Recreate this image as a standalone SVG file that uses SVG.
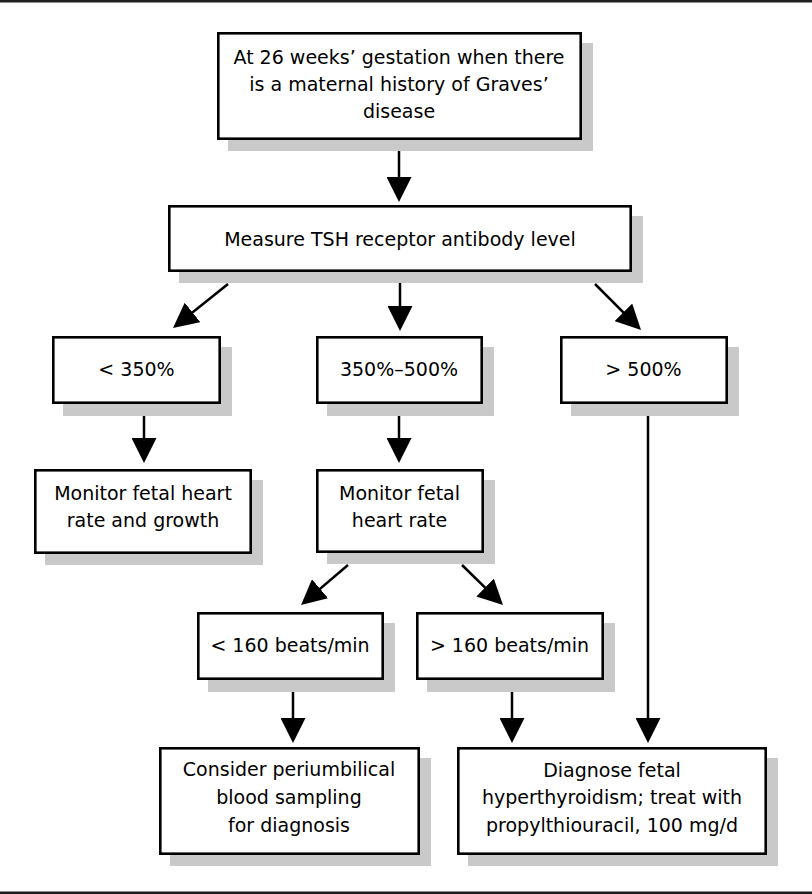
<svg xmlns="http://www.w3.org/2000/svg" width="812" height="894" viewBox="0 0 812 894">
<style>
.box{fill:#fff;stroke:#000;stroke-width:2.6}
.sh{fill:#c9c9c9}
.t{font-family:"DejaVu Sans","Liberation Sans",sans-serif;font-size:19px;fill:#000;text-anchor:middle}
.c{stroke:#000;stroke-width:2.5;fill:none;marker-end:url(#ah)}
.rule{fill:#1e1e1e}
</style>
<defs>
<marker id="ah" viewBox="0 0 25 25" refX="19" refY="12.5" markerWidth="25" markerHeight="25" markerUnits="userSpaceOnUse" orient="auto">
<path d="M0,0 L25,12.5 L0,25 Z" fill="#000"/>
</marker>
</defs>
<rect class="rule" x="0" y="0" width="812" height="2.5"/>
<rect class="rule" x="0" y="891.5" width="812" height="2.5"/>

<g id="connectors">
<line class="c" x1="399" y1="151" x2="399" y2="196"/>
<line class="c" x1="228" y1="284" x2="177.7" y2="324.3"/>
<line class="c" x1="400" y1="283" x2="400" y2="325"/>
<line class="c" x1="595" y1="284" x2="636.8" y2="325.8"/>
<line class="c" x1="144" y1="416" x2="144" y2="457"/>
<line class="c" x1="399" y1="416" x2="399" y2="457"/>
<line class="c" x1="648" y1="416" x2="648" y2="737"/>
<line class="c" x1="348" y1="565" x2="305.6" y2="601.1"/>
<line class="c" x1="462" y1="565" x2="498.7" y2="600.8"/>
<line class="c" x1="293" y1="692" x2="293" y2="737"/>
<line class="c" x1="512" y1="692" x2="512" y2="737"/>
</g>

<g id="n1">
<rect class="sh" x="228" y="43" width="365" height="108"/>
<rect class="box" x="218.3" y="33.3" width="362.4" height="105.4"/>
<text class="t" x="399" y="63.5">At 26 weeks’ gestation when there</text>
<text class="t" x="399" y="90.5">is a maternal history of Graves’</text>
<text class="t" x="399" y="117.5">disease</text>
</g>

<g id="n2">
<rect class="sh" x="179" y="216" width="464" height="67"/>
<rect class="box" x="169.3" y="206.3" width="461.4" height="64.4"/>
<text class="t" x="400" y="246">Measure TSH receptor antibody level</text>
</g>

<g id="n3">
<rect class="sh" x="63" y="347" width="169" height="69"/>
<rect class="box" x="53.3" y="337.3" width="166.4" height="65.4"/>
<text class="t" x="136.5" y="376">&lt; 350%</text>
</g>

<g id="n4">
<rect class="sh" x="327" y="347" width="167" height="69"/>
<rect class="box" x="317.3" y="337.3" width="164.4" height="65.4"/>
<text class="t" x="399" y="376">350%–500%</text>
</g>

<g id="n5">
<rect class="sh" x="571" y="347" width="168" height="69"/>
<rect class="box" x="561.3" y="337.3" width="165.4" height="65.4"/>
<text class="t" x="643.5" y="376">&gt; 500%</text>
</g>

<g id="n6">
<rect class="sh" x="45" y="480" width="218" height="85"/>
<rect class="box" x="35.3" y="470.3" width="215.4" height="82.4"/>
<text class="t" x="143" y="500">Monitor fetal heart</text>
<text class="t" x="143" y="527">rate and growth</text>
</g>

<g id="n7">
<rect class="sh" x="327" y="480" width="168" height="84"/>
<rect class="box" x="317.3" y="470.3" width="165.4" height="81.4"/>
<text class="t" x="399.5" y="500">Monitor fetal</text>
<text class="t" x="399.5" y="527">heart rate</text>
</g>

<g id="n8">
<rect class="sh" x="208" y="623" width="187" height="69"/>
<rect class="box" x="198.3" y="613.3" width="184.4" height="65.4"/>
<text class="t" x="290" y="652">&lt; 160 beats/min</text>
</g>

<g id="n9">
<rect class="sh" x="427" y="623" width="188" height="69"/>
<rect class="box" x="417.3" y="613.3" width="185.4" height="65.4"/>
<text class="t" x="509.5" y="652">&gt; 160 beats/min</text>
</g>

<g id="n10">
<rect class="sh" x="170" y="758" width="261" height="108"/>
<rect class="box" x="160.3" y="748.3" width="258.4" height="105.4"/>
<text class="t" x="289" y="776">Consider periumbilical</text>
<text class="t" x="289" y="804">blood sampling</text>
<text class="t" x="289" y="832">for diagnosis</text>
</g>

<g id="n11">
<rect class="sh" x="468" y="758" width="310" height="108"/>
<rect class="box" x="458.3" y="748.3" width="307.4" height="105.4"/>
<text class="t" x="612" y="777">Diagnose fetal</text>
<text class="t" x="612" y="804">hyperthyroidism; treat with</text>
<text class="t" x="612" y="832">propylthiouracil, 100 mg/d</text>
</g>
</svg>
